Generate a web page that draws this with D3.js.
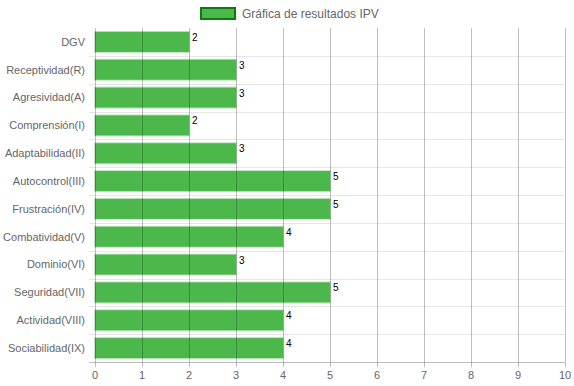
<!DOCTYPE html>
<html>
<head>
<meta charset="utf-8">
<script src="https://cdn.jsdelivr.net/npm/d3@7"></script>
<style>
  body { margin: 0; background: #fff; }
  svg { display: block; font-family: "Liberation Sans", Arial, sans-serif; }
</style>
</head>
<body>
<div id="svg-container"></div>
<script>
const categories = ["DGV", "Receptividad(R)", "Agresividad(A)", "Comprensión(I)", "Adaptabilidad(II)",
    "Autocontrol(III)", "Frustración(IV)", "Combatividad(V)", "Dominio(VI)", "Seguridad(VII)",
    "Actividad(VIII)", "Sociabilidad(IX)"];
const values = [2, 3, 3, 2, 3, 5, 5, 4, 3, 5, 4, 4];
const xTicks = [0, 1, 2, 3, 4, 5, 6, 7, 8, 9, 10];
const legendLabel = "Gráfica de resultados IPV";

const buildChart = () => {
    const [width, height] = [574, 386];
    const margin = {top: 28, right: 9, bottom: 24, left: 95};

    const svg = d3.select("#svg-container")
        .append("svg")
        .attr("width", width)
        .attr("height", height);

    const x = d3.scaleLinear()
        .domain([0, 10])
        .range([margin.left, width - margin.right]);

    const y = d3.scaleBand()
        .domain(categories)
        .range([margin.top, height - margin.bottom]);

    const barH = y.bandwidth() * 0.72;

    // horizontal grid lines (between categories)
    svg.append("g")
        .selectAll("line")
        .data(categories.slice(1))
        .enter()
        .append("line")
        .attr("x1", margin.left - 6)
        .attr("x2", width - margin.right)
        .attr("y1", d => Math.round(y(d)) + 0.5)
        .attr("y2", d => Math.round(y(d)) + 0.5)
        .attr("stroke", "#e6e6e6");

    // bars
    svg.append("g")
        .selectAll("rect")
        .data(values)
        .enter()
        .append("rect")
        .attr("x", x(0))
        .attr("y", (d, i) => y(categories[i]) + (y.bandwidth() - barH) / 2)
        .attr("width", d => x(d) - x(0))
        .attr("height", barH)
        .attr("fill", "#4cb84c")
        .attr("stroke", "rgba(76,184,76,0.35)")
        .attr("stroke-width", 2);

    // vertical grid lines, drawn over bars
    svg.append("g")
        .selectAll("line")
        .data(xTicks.slice(1))
        .enter()
        .append("line")
        .attr("x1", d => Math.round(x(d)) + 0.5)
        .attr("x2", d => Math.round(x(d)) + 0.5)
        .attr("y1", margin.top)
        .attr("y2", height - margin.bottom + 5)
        .attr("stroke", "rgba(0,0,0,0.25)");

    // axes lines
    svg.append("line")
        .attr("x1", x(0) + 0.5).attr("x2", x(0) + 0.5)
        .attr("y1", margin.top).attr("y2", height - margin.bottom + 5)
        .attr("stroke", "rgba(0,0,0,0.25)");
    svg.append("line")
        .attr("x1", margin.left - 6).attr("x2", width - margin.right)
        .attr("y1", height - margin.bottom + 0.5).attr("y2", height - margin.bottom + 0.5)
        .attr("stroke", "rgba(0,0,0,0.25)");

    // x tick labels
    svg.append("g")
        .selectAll("text")
        .data(xTicks)
        .enter()
        .append("text")
        .attr("x", d => x(d))
        .attr("y", height - margin.bottom + 17)
        .attr("text-anchor", "middle")
        .attr("font-size", 11)
        .attr("fill", "#666")
        .text(d => d);

    // y labels
    svg.append("g")
        .selectAll("text")
        .data(categories)
        .enter()
        .append("text")
        .attr("x", margin.left - 10)
        .attr("y", d => y(d) + y.bandwidth() / 2)
        .attr("dy", "0.35em")
        .attr("text-anchor", "end")
        .attr("font-size", 11)
        .attr("fill", "#666")
        .text(d => d);

    // value labels
    svg.append("g")
        .selectAll("text")
        .data(values)
        .enter()
        .append("text")
        .attr("x", d => x(d) + 3)
        .attr("y", (d, i) => y(categories[i]) + (y.bandwidth() - barH) / 2 + 9)
        .attr("font-size", 10)
        .attr("fill", "#000")
        .text(d => d);

    // legend
    const legend = svg.append("g").attr("transform", "translate(201,8)");
    legend.append("rect")
        .attr("width", 34)
        .attr("height", 11)
        .attr("fill", "#4cb84c")
        .attr("stroke", "#0a7d0a")
        .attr("stroke-width", 2);
    legend.append("text")
        .attr("x", 41)
        .attr("y", 6)
        .attr("dy", "0.35em")
        .attr("font-size", 12)
        .attr("fill", "#666")
        .text(legendLabel);
};

buildChart();
</script>
</body>
</html>
